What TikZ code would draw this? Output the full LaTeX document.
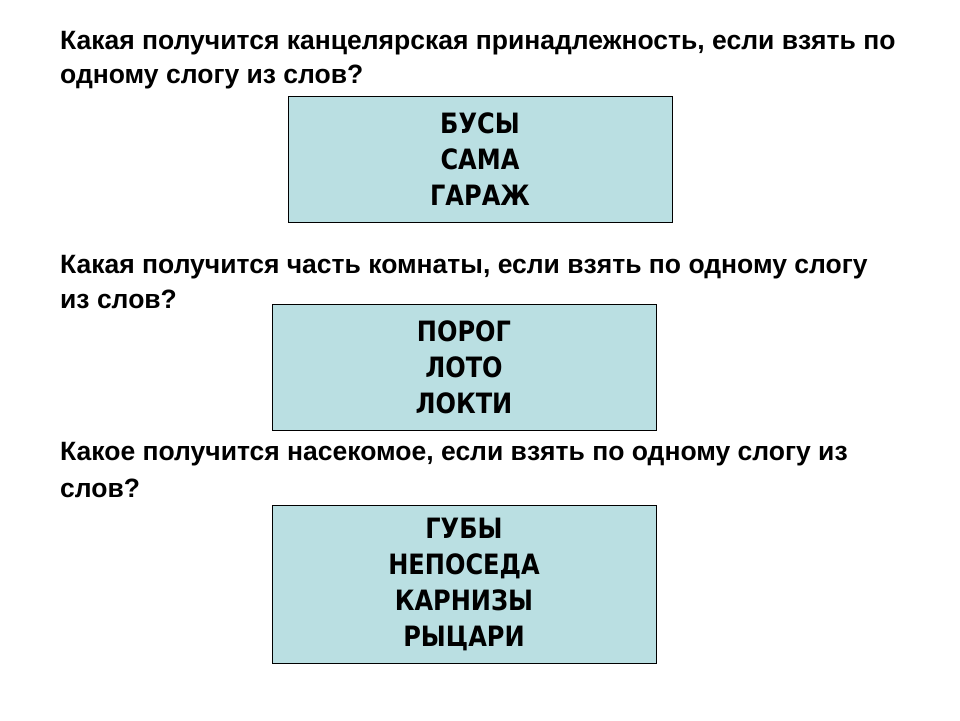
\documentclass[tikz,border=0pt]{standalone}
\usepackage{fontspec}
\setmainfont{Liberation Sans}
\newfontfamily\boxfont{DejaVu Sans}[FakeStretch=0.86]
\definecolor{boxblue}{HTML}{BADFE2}
\tikzset{
  qline/.style={anchor=base west, inner sep=0pt, font=\fontsize{26.5}{34}\selectfont\bfseries},
  wordbox/.style={draw=black, line width=1pt, fill=boxblue, align=center, inner sep=0pt,
    font=\boxfont\fontsize{28}{36}\selectfont\bfseries}
}
\begin{document}
\begin{tikzpicture}[x=1pt,y=-1pt]
\useasboundingbox[fill=white] (0,0) rectangle (960,720);

% first question
\node[qline] (q1a) at (60,49) {Какая получится канцелярская принадлежность, если взять по};
\node[qline] (q1b) at (60,83) {одному слогу из слов?};
\node[wordbox, minimum width=384pt, minimum height=126pt] (b1) at (480,159) {БУСЫ\\САМА\\ГАРАЖ};

% second question
\node[qline] (q2a) at (60,273) {Какая получится часть комнаты, если взять по одному слогу};
\node[qline] (q2b) at (60,308) {из слов?};
\node[wordbox, minimum width=384pt, minimum height=126pt] (b2) at (464,367) {ПОРОГ\\ЛОТО\\ЛОКТИ};

% third question
\node[qline] (q3a) at (60,460) {Какое получится насекомое, если взять по одному слогу из};
\node[qline] (q3b) at (60,497) {слов?};
\node[wordbox, minimum width=384pt, minimum height=158pt] (b3) at (464,584) {ГУБЫ\\НЕПОСЕДА\\КАРНИЗЫ\\РЫЦАРИ};
\end{tikzpicture}
\end{document}
